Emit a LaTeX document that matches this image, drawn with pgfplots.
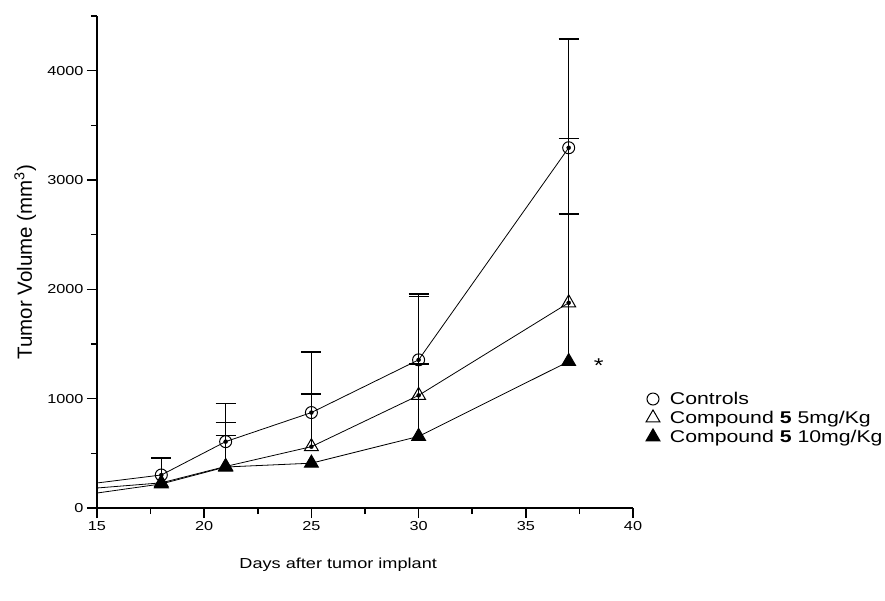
\documentclass[border=0pt]{standalone}
\usepackage{fontspec}
\setmainfont{Liberation Sans}[FakeStretch=1.25]
\newfontfamily\ylabfont{Liberation Sans}
\usepackage{pgfplots}
\pgfplotsset{compat=1.18}
\begin{document}
\begin{tikzpicture}
\useasboundingbox (0,0) rectangle (885pt,600pt);
\begin{axis}[
 at={(97pt,92pt)}, anchor=south west,
 scale only axis, width=536pt, height=492pt,
 xmin=15, xmax=40, ymin=0, ymax=4500,
 axis lines=left, axis line style={-, line width=1.6pt},
 xtick={15,20,...,40}, ytick={0,1000,...,4000},
 minor xtick={17.5,22.5,...,37.5}, minor ytick={500,1500,...,4500},
 tick align=outside, major tick length=10pt, minor tick length=6pt,
 major tick style={black, line width=1.6pt},
 minor tick style={black, line width=1.6pt},
 tick label style={font=\fontsize{13}{14}\selectfont},
 /pgf/number format/assume math mode=true,
 /pgf/number format/set thousands separator={},
 xlabel={Days after tumor implant},
 xlabel style={at={(0.45,-0.116)}, anchor=center, font=\fontsize{14.5}{17}\selectfont},
 ylabel={\ylabfont Tumor Volume (mm\textsuperscript{3})},
 ylabel style={at={(-0.134,0.5)}, anchor=center, font=\fontsize{20.5}{22}\selectfont},
 clip=false,
 legend style={at={(1.024,0.238)}, anchor=north west, draw=none, fill=none,
   font=\fontsize{17}{20}\selectfont, row sep=3pt, inner sep=0pt,
   nodes={inner sep=1pt}},
 legend cell align=left,
]
% connecting lines
\addplot[black, line width=0.8pt, forget plot] coordinates {(15,229)(18,302)(21,607)(25,873)(30,1355)(37,3295)};
\addplot[black, line width=0.8pt, forget plot] coordinates {(15,183)(18,230)(21,380)(25,561)(30,1030)(37,1877)};
\addplot[black, line width=0.8pt, forget plot] coordinates {(15,137)(18,220)(21,375)(25,410)(30,655)(37,1340)};
% error bars
\addplot[only marks, mark=none, forget plot, error bars/.cd, y dir=plus, y explicit,
  error bar style={black, line width=1.3pt}, error mark options={black, rotate=90, line width=1.3pt, mark size=10pt}]
  coordinates {(18,302) +- (0,156) (21,607) +- (0,351) (25,873) +- (0,555) (30,1355) +- (0,603) (37,3295) +- (0,995)};
\addplot[only marks, mark=none, forget plot, error bars/.cd, y dir=plus, y explicit,
  error bar style={black, line width=1.3pt}, error mark options={black, rotate=90, line width=1.3pt, mark size=10pt}]
  coordinates {(21,380) +- (0,405) (25,561) +- (0,482) (30,1030) +- (0,288) (37,1877) +- (0,813)};
\addplot[only marks, mark=none, forget plot, error bars/.cd, y dir=plus, y explicit,
  error bar style={black, line width=1.3pt}, error mark options={black, rotate=90, line width=1.3pt, mark size=10pt}]
  coordinates {(21,375) +- (0,287) (30,655) +- (0,1279) (37,1340) +- (0,2038)};
% markers
\addplot[only marks, mark=o, mark size=6pt, mark options={black, fill=white, line width=1pt}]
  coordinates {(18,302)(21,607)(25,873)(30,1355)(37,3295)};
\addlegendentry{\hspace*{9pt}Controls}
\addplot[only marks, mark=triangle, mark size=8pt, mark options={black, fill=white, line width=1pt}]
  coordinates {(18,230)(21,380)(25,561)(30,1030)(37,1877)};
\addlegendentry{\hspace*{9pt}Compound \textbf{5} 5mg/Kg}
\addplot[only marks, mark=triangle*, mark size=8pt, mark options={black, fill=black, line width=1pt}]
  coordinates {(18,220)(21,375)(25,410)(30,655)(37,1340)};
\addlegendentry{\hspace*{9pt}Compound \textbf{5} 10mg/Kg}
\node[font=\fontsize{20}{20}\selectfont] at (axis cs:38.4,1300) {*};
\end{axis}
\end{tikzpicture}
\end{document}
